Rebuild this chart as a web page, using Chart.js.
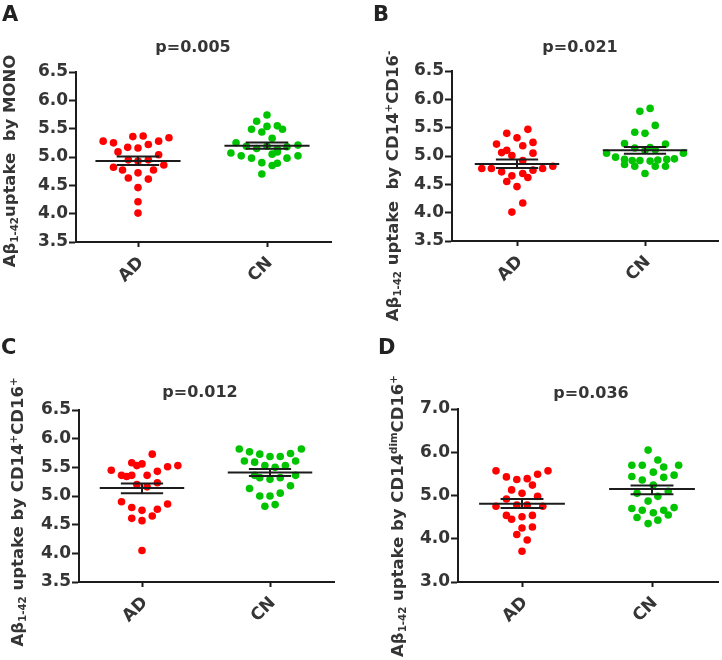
<!DOCTYPE html>
<html>
<head>
<meta charset="utf-8">
<script src="https://cdn.jsdelivr.net/npm/chart.js@4.4.3/dist/chart.umd.min.js"></script>
<style>
    body { margin: 0; background: #fff; }
    #fig { position: relative; width: 722px; height: 660px; font-family: 'DejaVu Sans', sans-serif; font-weight: bold; color: #353535; }
    #fig canvas { position: absolute; }
    .letter { position: absolute; font-size: 21px; line-height: 1; color: #222; }
    .pval { position: absolute; font-size: 16px; line-height: 1; white-space: nowrap; transform: translate(-50%, -50%); }
    .ytitle { position: absolute; font-size: 16.5px; line-height: 1; white-space: nowrap; transform: translate(-50%, -50%) rotate(-90deg); }
    .ytitle sub, .ytitle sup { font-size: 0.62em; position: relative; vertical-align: baseline; line-height: 0; }
    .ytitle sub { top: 0.3em; }
    .ytitle sup { top: -0.6em; }
</style>
</head>
<body>
<div id="fig">
    <canvas id="chartA" width="361" height="330" style="left:0;top:0"></canvas>
    <canvas id="chartB" width="361" height="330" style="left:361px;top:0"></canvas>
    <canvas id="chartC" width="361" height="330" style="left:0;top:330px"></canvas>
    <canvas id="chartD" width="361" height="330" style="left:361px;top:330px"></canvas>

    <div class="letter" style="left:2px;top:4px">A</div>
    <div class="letter" style="left:373px;top:4px">B</div>
    <div class="letter" style="left:1px;top:337px">C</div>
    <div class="letter" style="left:378px;top:337px">D</div>

    <div class="pval" style="left:193px;top:47px">p=0.005</div>
    <div class="pval" style="left:580px;top:47px">p=0.021</div>
    <div class="pval" style="left:200px;top:392px">p=0.012</div>
    <div class="pval" style="left:591px;top:393px">p=0.036</div>

    <div class="ytitle" style="left:10px;top:161px">Aβ<sub>1-42</sub>uptake&nbsp; by MONO</div>
    <div class="ytitle" style="left:393px;top:186px">Aβ<sub>1-42</sub> uptake&nbsp; by CD14<sup>+</sup>CD16<sup>-</sup></div>
    <div class="ytitle" style="left:18px;top:512px">Aβ<sub>1-42</sub> uptake by CD14<sup>+</sup>CD16<sup>+</sup></div>
    <div class="ytitle" style="left:398px;top:516px">Aβ<sub>1-42</sub> uptake by CD14<sup>dim</sup>CD16<sup>+</sup></div>
</div>

<script>
    'use strict';

    const groups = ['AD', 'CN'];

    // A: monocytes
    const monoAD = [5.28, 5.25, 5.36, 5.37, 5.28, 5.34, 5.09, 5.17, 5.16, 5.22, 5.04, 4.95,
        4.93, 4.95, 4.82, 4.77, 4.72, 4.77, 4.86, 4.63, 4.61, 4.46, 4.21, 4.01];
    const monoADJitter = [-0.27, -0.19, -0.04, 0.04, 0.16, 0.24, -0.155, -0.08, 0, 0.08, 0.16, -0.075,
        0, 0.08, -0.19, -0.12, 0, 0.12, 0.2, -0.075, 0.08, 0, 0, 0];
    const monoCN = [5.74, 5.63, 5.49, 5.54, 5.55, 5.49, 5.44, 5.33, 5.25, 5.19, 5.15, 5.19, 5.14,
        5.18, 5.21, 5.07, 5.02, 4.98, 5.05, 5.09, 4.98, 5.02, 4.90, 4.85, 4.89, 4.70];
    const monoCNJitter = [0, -0.08, -0.12, 0, 0.08, 0.12, -0.04, 0.04, -0.24, -0.16, -0.08, 0, 0.08,
        0.155, 0.24, -0.28, -0.2, -0.12, 0.04, 0.08, 0.155, 0.24, -0.04, 0.04, 0.08, -0.04];
    const monoMean = [4.93, 5.20];
    const monoSemLow = [4.86, 5.145];
    const monoSemHigh = [5.01, 5.255];

    // B: CD14+CD16-
    const classicAD = [5.40, 5.47, 5.32, 5.21, 5.24, 5.18, 5.06, 5.10, 5.01, 5.05, 4.92, 4.78,
        4.78, 4.72, 4.78, 4.82, 4.75, 4.65, 4.55, 4.69, 4.62, 4.46, 4.17, 4.01];
    const classicADJitter = [-0.08, 0.085, 0, -0.16, 0.125, 0.045, -0.12, -0.08, -0.04, 0.125, 0.045, -0.275,
        -0.2, -0.12, 0.2, 0.28, 0.125, -0.04, -0.08, 0.045, 0.085, 0, 0.045, -0.04];
    const classicCN = [5.84, 5.79, 5.54, 5.42, 5.40, 5.22, 5.21, 5.14, 5.15, 5.05, 5.05, 4.98, 5.10,
        5.11, 4.94, 4.92, 4.92, 4.91, 4.93, 4.94, 4.95, 4.85, 4.82, 4.82, 4.82, 4.69];
    const classicCNJitter = [0.04, -0.04, 0.08, -0.08, 0, -0.16, 0.16, -0.08, 0.04, -0.3, 0.3, -0.23, 0,
        0.08, -0.16, -0.1, -0.04, 0.04, 0.1, 0.17, 0.23, -0.16, -0.08, 0.08, 0.16, 0];
    const classicMean = [4.86, 5.10];
    const classicSemLow = [4.79, 5.04];
    const classicSemHigh = [4.94, 5.16];

    // C: CD14+CD16+
    const intermAD = [5.73, 5.58, 5.56, 5.53, 5.45, 5.53, 5.51, 5.36, 5.34, 5.36, 5.36, 5.43,
        5.20, 5.16, 5.23, 4.90, 4.80, 4.75, 4.77, 4.86, 4.61, 4.57, 4.65, 4.05];
    const intermADJitter = [0.08, -0.08, 0, -0.04, -0.24, 0.28, 0.2, -0.16, -0.12, -0.08, 0.04, 0.12,
        -0.04, 0.04, 0.12, -0.16, -0.08, 0, 0.12, 0.2, -0.08, 0, 0.08, 0];
    const intermCN = [5.82, 5.82, 5.77, 5.73, 5.69, 5.69, 5.74, 5.61, 5.59, 5.61, 5.53, 5.50, 5.53,
        5.36, 5.32, 5.29, 5.32, 5.36, 5.13, 5.18, 5.00, 5.00, 5.05, 4.82, 4.85];
    const intermCNJitter = [-0.24, 0.245, -0.16, -0.08, 0, 0.08, 0.16, -0.2, -0.12, 0.2, -0.04, 0.04, 0.12,
        -0.12, -0.08, 0, 0.08, 0.2, -0.16, 0.16, -0.08, 0, 0.08, -0.04, 0.04];
    const intermMean = [5.14, 5.41];
    const intermSemLow = [5.05, 5.35];
    const intermSemHigh = [5.22, 5.47];

    // D: CD14dimCD16+
    const nonclassAD = [5.57, 5.43, 5.37, 5.39, 5.49, 5.57, 5.13, 5.05, 5.24, 4.92, 4.98, 4.75,
        4.78, 4.78, 4.75, 4.54, 4.45, 4.51, 4.54, 4.25, 4.27, 4.10, 3.97, 3.71];
    const nonclassADJitter = [-0.2, -0.12, -0.04, 0.04, 0.12, 0.2, -0.08, 0, 0.08, -0.12, 0.12, -0.2,
        -0.04, 0.04, 0.16, -0.12, -0.08, 0, 0.08, 0, 0.08, -0.04, 0.04, 0];
    const nonclassCN = [6.05, 5.70, 5.70, 5.82, 5.70, 5.66, 5.54, 5.44, 5.36, 5.42, 5.47, 5.24, 5.05,
        5.10, 4.98, 4.87, 4.70, 4.66, 4.60, 4.66, 4.72, 4.49, 4.55, 4.35, 4.43];
    const nonclassCNJitter = [-0.03, -0.155, -0.075, 0.045, 0.205, 0.09, 0.01, -0.155, -0.075, 0.09, 0.17, 0.01, -0.115,
        0.125, 0.045, -0.03, -0.155, -0.075, 0.01, 0.09, 0.17, -0.115, 0.125, -0.03, 0.045];
    const nonclassMean = [4.81, 5.15];
    const nonclassSemLow = [4.71, 5.03];
    const nonclassSemHigh = [4.92, 5.23];

    const yTicksHalf = [3.5, 4.0, 4.5, 5.0, 5.5, 6.0, 6.5];
    const yTicksWhole = [3.0, 4.0, 5.0, 6.0, 7.0];

    const RED = '#ff0000';
    const GREEN = '#00c400';
    const INK = '#1c1c1c';
    const TEXT = '#353535';

    function segment(x1, y1, x2, y2) {
        return {
            data: [{ x: x1, y: y1 }, { x: x2, y: y2 }],
            showLine: true,
            borderColor: INK,
            borderWidth: 2,
            pointRadius: 0,
            order: 0,
        };
    }

    function dots(values, jitter, center, color) {
        return {
            data: values.map((v, i) => ({ x: center + jitter[i], y: v })),
            backgroundColor: color,
            borderWidth: 0,
            pointRadius: 3.8,
            order: 1,
        };
    }

    // box = pixel layout of the plot area inside a 361x330 canvas
    function drawPanel(id, box, series, yTicks) {
        const unit = box.cn - box.ad;
        const xMin = 1 - (box.ad - box.left) / unit;
        const xMax = 2 + (box.right - box.cn) / unit;

        const datasets = [];
        series.mean.forEach((m, i) => {
            const c = i + 1;
            datasets.push(segment(c - 0.33, m, c + 0.33, m));
            datasets.push(segment(c - 0.165, series.high[i], c + 0.165, series.high[i]));
            datasets.push(segment(c - 0.165, series.low[i], c + 0.165, series.low[i]));
            datasets.push(segment(c, series.low[i], c, series.high[i]));
        });
        datasets.push(dots(series.ad, series.adJitter, 1, RED));
        datasets.push(dots(series.cn, series.cnJitter, 2, GREEN));

        new Chart(document.getElementById(id), {
            type: 'scatter',
            data: { datasets },
            options: {
                responsive: false,
                animation: false,
                devicePixelRatio: 1,
                layout: {
                    padding: { top: box.top, right: 361 - box.right, bottom: 0, left: 0 },
                },
                plugins: {
                    legend: { display: false },
                    tooltip: { enabled: false },
                },
                scales: {
                    x: {
                        type: 'linear',
                        min: xMin,
                        max: xMax,
                        afterFit: (s) => { s.height = 330 - box.bottom; },
                        afterBuildTicks: (s) => { s.ticks = groups.map((g, i) => ({ value: i + 1 })); },
                        border: { display: true, color: INK, width: 2 },
                        grid: { drawOnChartArea: false, drawTicks: true, tickLength: 5, tickColor: INK, tickWidth: 2 },
                        ticks: {
                            minRotation: 45,
                            maxRotation: 45,
                            padding: 6,
                            labelOffset: 3,
                            color: TEXT,
                            font: { family: 'DejaVu Sans', size: 17, weight: 'bold' },
                            callback: (v) => groups[Math.round(v) - 1] || '',
                        },
                    },
                    y: {
                        min: yTicks[0],
                        max: yTicks[yTicks.length - 1],
                        afterFit: (s) => { s.width = box.left; },
                        afterBuildTicks: (s) => { s.ticks = yTicks.map((v) => ({ value: v })); },
                        border: { display: true, color: INK, width: 2 },
                        grid: { drawOnChartArea: false, drawTicks: true, tickLength: 7, tickColor: INK, tickWidth: 2 },
                        ticks: {
                            padding: 1,
                            color: TEXT,
                            font: { family: 'DejaVu Sans', size: 17, weight: 'bold' },
                            callback: (v) => Number(v).toFixed(1),
                        },
                    },
                },
            },
        });
    }

    drawPanel('chartA', { left: 76, top: 72, bottom: 242, right: 331, ad: 138, cn: 267 }, {
        ad: monoAD, adJitter: monoADJitter, cn: monoCN, cnJitter: monoCNJitter,
        mean: monoMean, low: monoSemLow, high: monoSemHigh,
    }, yTicksHalf);

    drawPanel('chartB', { left: 91, top: 71, bottom: 241, right: 357, ad: 156, cn: 284 }, {
        ad: classicAD, adJitter: classicADJitter, cn: classicCN, cnJitter: classicCNJitter,
        mean: classicMean, low: classicSemLow, high: classicSemHigh,
    }, yTicksHalf);

    drawPanel('chartC', { left: 79, top: 80, bottom: 252, right: 334, ad: 142, cn: 270 }, {
        ad: intermAD, adJitter: intermADJitter, cn: intermCN, cnJitter: intermCNJitter,
        mean: intermMean, low: intermSemLow, high: intermSemHigh,
    }, yTicksHalf);

    drawPanel('chartD', { left: 97, top: 79, bottom: 252, right: 357, ad: 161, cn: 291 }, {
        ad: nonclassAD, adJitter: nonclassADJitter, cn: nonclassCN, cnJitter: nonclassCNJitter,
        mean: nonclassMean, low: nonclassSemLow, high: nonclassSemHigh,
    }, yTicksWhole);
</script>
</body>
</html>
